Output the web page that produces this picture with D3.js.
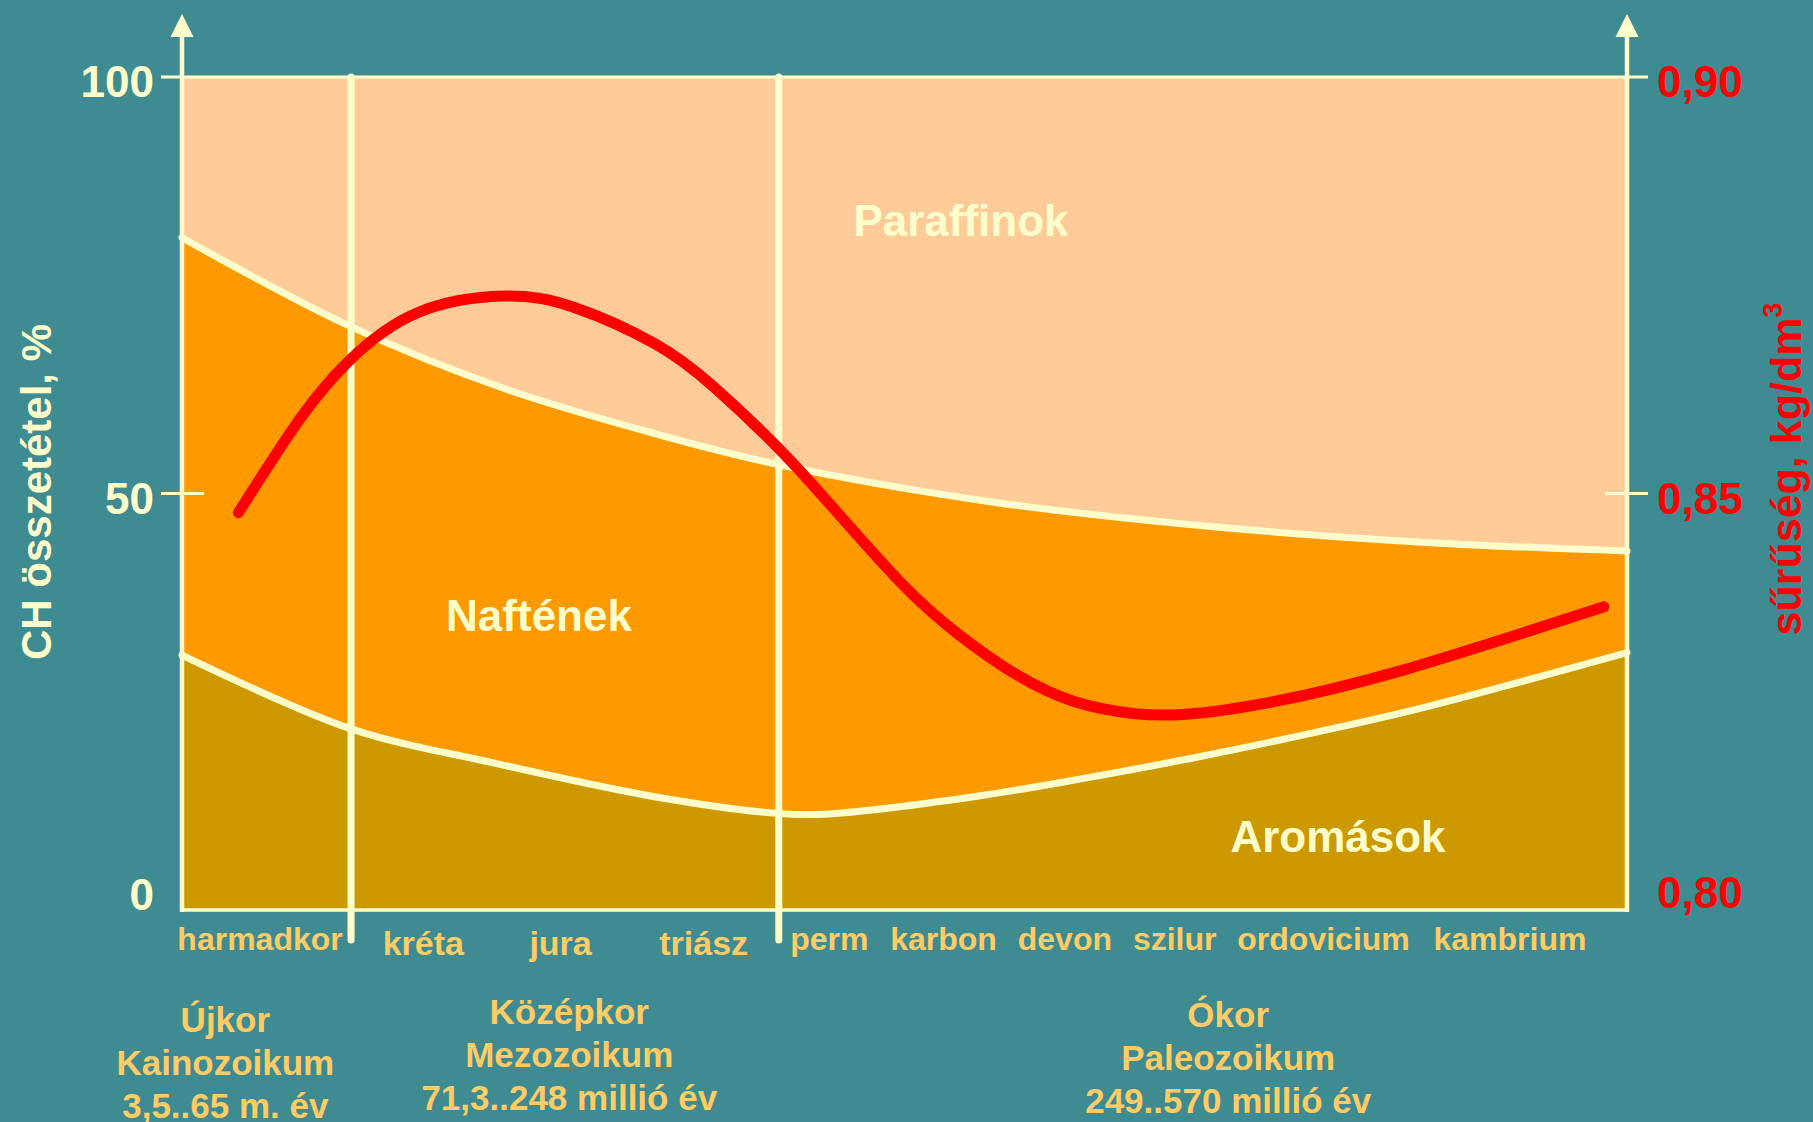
<!DOCTYPE html>
<html>
<head>
<meta charset="utf-8">
<script src="https://cdn.jsdelivr.net/npm/d3@7"></script>
<style>
    html, body { margin: 0; padding: 0; background: #3E8B91; }
    svg { display: block; }
    text { font-family: "Liberation Sans", Arial, sans-serif; font-weight: bold; }
</style>
</head>
<body>
<svg id="chart" width="1813" height="1122"></svg>
<script>
// x is a relative position along the time axis (0 = left axis, 100 = right axis)
var periods = ["harmadkor", "kréta", "jura", "triász", "perm", "karbon", "devon", "szilur", "ordovicium", "kambrium"];
var periodPos = [5.4, 16.7, 26.2, 36.1, 44.8, 52.7, 61.1, 68.7, 79.0, 91.9];
var eraBounds = [11.7, 41.3];
var eraLines = [
    ["Újkor", "Kainozoikum", "3,5..65 m. év"],
    ["Középkor", "Mezozoikum", "71,3..248 millió év"],
    ["Ókor", "Paleozoikum", "249..570 millió év"]
];
var eraPos = [3.0, 26.8, 72.4];

// paraffin / naphthene boundary, %
var upperX = [0, 11.6, 22.3, 32.7, 41.2, 56.4, 71.4, 86.4, 100];
var upperY = [80.7, 70.1, 62.6, 57.2, 53.5, 48.9, 46.0, 44.1, 43.1];
// naphthene / aromatic boundary, %
var lowerX = [0, 11.6, 21.7, 32.7, 41.2, 44.4, 54.8, 62.4, 70.4, 78.9, 85.9, 100];
var lowerY = [30.6, 21.8, 17.6, 13.6, 11.6, 11.5, 13.6, 15.8, 18.4, 21.5, 24.3, 30.9];
// density, kg/dm3
var densX = [3.9, 8.1, 11.6, 16.3, 22.3, 27.2, 32.7, 36.8, 41.3, 45.0, 49.8, 53.8, 57.8, 61.8, 65.8, 69.5, 75.2, 84.5, 98.4];
var densY = [0.8477, 0.8588, 0.8660, 0.8717, 0.8737, 0.8723, 0.8680, 0.8628, 0.8554, 0.8484, 0.8392, 0.8330,
    0.8282, 0.8250, 0.8236, 0.8235, 0.8249, 0.8288, 0.8364];

var pctTicks = [0, 50, 100];
var densTicks = [0.80, 0.85, 0.90];
var areaNames = ["Paraffinok", "Naftének", "Aromások"];

var cream = "#FFFFCC", gold = "#FFCC66", red = "#FF0000";

var svg = d3.select("#chart");

var x = d3.scaleLinear().domain([0, 100]).range([182, 1627]);
var y = d3.scaleLinear().domain([0, 100]).range([910, 77]);
var yd = d3.scaleLinear().domain([0.80, 0.90]).range([910, 77]);

var upper = upperX.map(function (d, i) { return [d, upperY[i]]; });
var lower = lowerX.map(function (d, i) { return [d, lowerY[i]]; });
var dens = densX.map(function (d, i) { return [d, densY[i]]; });

var smooth = d3.curveCatmullRom.alpha(0.5);

var area = d3.area()
    .x(function (d) { return x(d[0]); })
    .y0(y(0))
    .y1(function (d) { return y(d[1]); })
    .curve(smooth);

var line = d3.line()
    .x(function (d) { return x(d[0]); })
    .y(function (d) { return y(d[1]); })
    .curve(smooth);

var densLine = d3.line()
    .x(function (d) { return x(d[0]); })
    .y(function (d) { return yd(d[1]); })
    .curve(d3.curveNatural);

// fills
svg.append("rect")
    .attr("x", x(0)).attr("y", y(100))
    .attr("width", x(100) - x(0)).attr("height", y(0) - y(100))
    .attr("fill", "#FFCC99");
svg.append("path").datum(upper).attr("d", area).attr("fill", "#FF9900");
svg.append("path").datum(lower).attr("d", area).attr("fill", "#CC9900");

// boundary curves
[upper, lower].forEach(function (c) {
    svg.append("path").datum(c).attr("d", line)
        .attr("fill", "none").attr("stroke", cream)
        .attr("stroke-width", 7).attr("stroke-linecap", "round");
});

// frame: top line, bottom line, two axes with arrows
svg.append("line")
    .attr("x1", x(0) - 21).attr("x2", x(100) + 21)
    .attr("y1", y(100)).attr("y2", y(100))
    .attr("stroke", cream).attr("stroke-width", 3);
svg.append("line")
    .attr("x1", x(0)).attr("x2", x(100))
    .attr("y1", y(0)).attr("y2", y(0))
    .attr("stroke", cream).attr("stroke-width", 3.5);
[0, 100].forEach(function (v) {
    var ax = x(v);
    svg.append("line")
        .attr("x1", ax).attr("x2", ax)
        .attr("y1", y(0) + 2).attr("y2", 30)
        .attr("stroke", cream).attr("stroke-width", 4.5);
    svg.append("path")
        .attr("d", "M" + ax + ",14L" + (ax - 11.5) + ",37L" + (ax + 11.5) + ",37Z")
        .attr("fill", cream);
});

// mid ticks
svg.append("line")
    .attr("x1", x(0) - 21).attr("x2", x(0) + 22)
    .attr("y1", y(50)).attr("y2", y(50))
    .attr("stroke", cream).attr("stroke-width", 3);
svg.append("line")
    .attr("x1", x(100) - 22).attr("x2", x(100) + 21)
    .attr("y1", yd(0.85)).attr("y2", yd(0.85))
    .attr("stroke", cream).attr("stroke-width", 3);

// era dividers
svg.selectAll(".divider").data(eraBounds).enter().append("line")
    .attr("class", "divider")
    .attr("x1", function (d) { return x(d); }).attr("x2", function (d) { return x(d); })
    .attr("y1", y(100)).attr("y2", 940)
    .attr("stroke", cream).attr("stroke-width", 7).attr("stroke-linecap", "round");

// density curve
svg.append("path").datum(dens).attr("d", densLine)
    .attr("fill", "none").attr("stroke", red)
    .attr("stroke-width", 11).attr("stroke-linecap", "round").attr("stroke-linejoin", "round");

// tick labels
svg.selectAll(".ltick").data(pctTicks).enter().append("text")
    .attr("class", "ltick")
    .attr("x", x(0) - 28)
    .attr("y", function (d) { return y(d) + (d === 0 ? 0 : 20); })
    .attr("text-anchor", "end")
    .attr("font-size", 44).attr("fill", cream)
    .text(function (d) { return d; });

svg.selectAll(".rtick").data(densTicks).enter().append("text")
    .attr("class", "rtick")
    .attr("x", x(100) + 30)
    .attr("y", function (d, i) { return yd(d) + (i === 0 ? -2 : 20); })
    .attr("font-size", 44).attr("fill", red)
    .text(function (d) { return d.toFixed(2).replace(".", ","); });

// axis titles
svg.append("text")
    .attr("transform", "translate(51,492) rotate(-90)")
    .attr("text-anchor", "middle")
    .attr("font-size", 42).attr("fill", cream)
    .text("CH összetétel, %");

var rt = svg.append("text")
    .attr("transform", "translate(1801,469) rotate(-90)")
    .attr("text-anchor", "middle")
    .attr("font-size", 43).attr("fill", red);
rt.append("tspan").text("sűrűség, kg/dm");
rt.append("tspan").attr("font-size", 27).attr("dy", -19).text("3");

// period labels
svg.selectAll(".period").data(periods).enter().append("text")
    .attr("class", "period")
    .attr("x", function (d, i) { return x(periodPos[i]); })
    .attr("y", function (d, i) { return (i >= 1 && i <= 3) ? 955 : 950; })
    .attr("text-anchor", "middle")
    .attr("font-size", function (d, i) { return (i >= 1 && i <= 3) ? 34 : 32; })
    .attr("fill", gold)
    .text(function (d) { return d; });

// era labels
var eraTop = [1032, 1024, 1027];
eraLines.forEach(function (lines, i) {
    var t = svg.append("text")
        .attr("x", x(eraPos[i])).attr("y", eraTop[i])
        .attr("text-anchor", "middle")
        .attr("font-size", 35).attr("fill", gold);
    lines.forEach(function (s, j) {
        t.append("tspan")
            .attr("x", x(eraPos[i]))
            .attr("dy", j === 0 ? 0 : 43)
            .text(s);
    });
});

// area names
var areaPos = [[961, 236], [539, 631], [1338, 852]];
svg.selectAll(".aname").data(areaNames).enter().append("text")
    .attr("class", "aname")
    .attr("x", function (d, i) { return areaPos[i][0]; })
    .attr("y", function (d, i) { return areaPos[i][1]; })
    .attr("text-anchor", "middle")
    .attr("font-size", 44).attr("fill", cream)
    .text(function (d) { return d; });
</script>
</body>
</html>
